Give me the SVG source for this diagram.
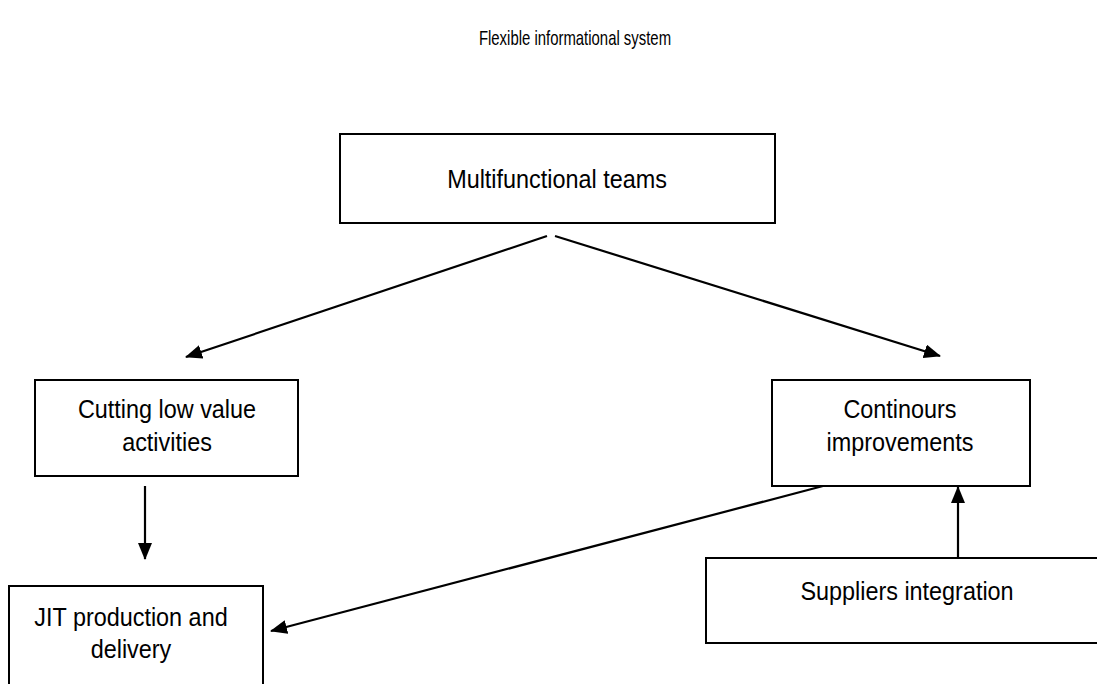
<svg xmlns="http://www.w3.org/2000/svg" width="1097" height="684" viewBox="0 0 1097 684">
<style>
.box{fill:#fff;stroke:#000;stroke-width:2}
.t{font-family:"Liberation Sans",Arial,sans-serif;font-size:26px;text-anchor:middle;fill:#000}
.title{font-family:"Liberation Sans",Arial,sans-serif;font-size:21px;text-anchor:middle;fill:#000}
.c{fill:none;stroke:#000;stroke-width:2.2}
</style>
<defs>
<marker id="ah" markerUnits="userSpaceOnUse" markerWidth="18" markerHeight="14" refX="16" refY="7" orient="auto">
<path d="M0,0 L17,7 L0,14 Z" fill="#000"/>
</marker>
</defs>
<rect width="1097" height="684" fill="#fff"/>
<text class="title" transform="translate(575,45) scale(0.71,1)">Flexible informational system</text>
<g id="multifunctional">
<rect class="box" x="340" y="134" width="435" height="89"/>
<text class="t" transform="translate(557,188) scale(0.9,1)">Multifunctional teams</text>
</g>
<g id="cutting">
<rect class="box" x="35" y="380" width="263" height="96"/>
<text class="t" transform="translate(167,418) scale(0.9,1)">Cutting low value</text>
<text class="t" transform="translate(167,451) scale(0.9,1)">activities</text>
</g>
<g id="continours">
<rect class="box" x="772" y="380" width="258" height="106"/>
<text class="t" transform="translate(900,418) scale(0.9,1)">Continours</text>
<text class="t" transform="translate(900,451) scale(0.9,1)">improvements</text>
</g>
<g id="jit">
<rect class="box" x="9" y="586" width="254" height="110"/>
<text class="t" transform="translate(131,626) scale(0.9,1)">JIT production and</text>
<text class="t" transform="translate(131,658) scale(0.9,1)">delivery</text>
</g>
<g id="suppliers">
<rect class="box" x="706" y="558" width="400" height="85"/>
<text class="t" transform="translate(907,600) scale(0.9,1)">Suppliers integration</text>
</g>
<g id="connectors">
<line class="c" x1="547" y1="236" x2="186" y2="357" marker-end="url(#ah)"/>
<line class="c" x1="555" y1="236" x2="940" y2="356" marker-end="url(#ah)"/>
<line class="c" x1="145" y1="486" x2="145" y2="559" marker-end="url(#ah)"/>
<line class="c" x1="823" y1="486" x2="271" y2="631" marker-end="url(#ah)"/>
<line class="c" x1="958" y1="558" x2="958" y2="487" marker-end="url(#ah)"/>
</g>
</svg>
